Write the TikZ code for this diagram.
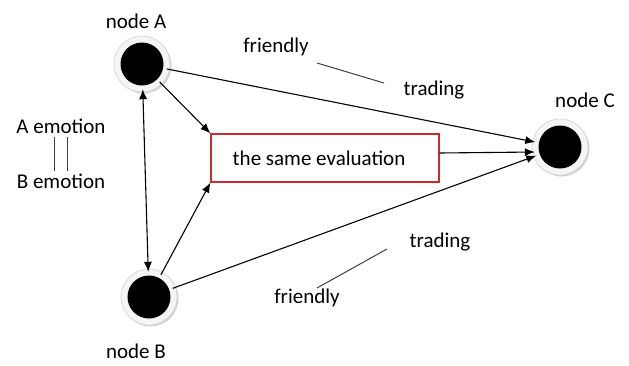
\documentclass[tikz,border=0pt]{standalone}
\usepackage{fontspec}
\setmainfont{Carlito}
\usetikzlibrary{arrows.meta}
\definecolor{boxred}{RGB}{200,45,45}
\begin{document}
\begin{tikzpicture}[x=1pt,y=-1pt,
  lbl/.style={font=\fontsize{21}{25}\selectfont, inner sep=0pt},
  ring/.style={circle, minimum size=50pt, inner sep=0pt},
  conn/.style={line width=1.1pt, -{Latex[length=10pt,width=8pt]}},
  plain/.style={line width=1pt, black!75}]
\useasboundingbox (0,0) rectangle (629,365);
% rings
\foreach \n/\x/\y in {A/142/64, B/149/297, C/560/147}{
  \fill[gray!35] (\x+1.5,\y+1.5) circle (28);
  \fill[gray!8] (\x,\y) circle (28);
  \draw[gray!30, line width=0.8pt] (\x,\y) circle (28);
  \fill[black] (\x,\y) circle (21.5);
  \node[ring] (\n) at (\x,\y) {};
}
% labels
\node[lbl] (la) at (136,21) {node A};
\node[lbl] (lb) at (136,351) {node B};
\node[lbl] (lc) at (585,100) {node C};
\node[lbl] (ae) at (61,126) {A emotion};
\node[lbl] (be) at (61,181) {B emotion};
\coordinate (e1t) at (54,137); \coordinate (e1b) at (54,171);
\coordinate (e2t) at (67,137); \coordinate (e2b) at (67,171);
\draw[plain] (e1t) -- (e1b);
\draw[plain] (e2t) -- (e2b);
\node[lbl] (f1) at (276,47) {friendly};
\node[lbl] (t1) at (434,90) {trading};
\coordinate (s1a) at (317,63); \coordinate (s1b) at (384,83);
\draw[plain] (s1a) -- (s1b);
\node[lbl] (t2) at (440,242) {trading};
\node[lbl] (f2) at (307,298) {friendly};
\coordinate (s2a) at (317,288); \coordinate (s2b) at (387,249);
\draw[plain] (s2a) -- (s2b);
% box
\node[draw=boxred, line width=1.2pt, minimum width=228pt, minimum height=48pt,
      inner sep=0pt, font=\fontsize{21}{25}\selectfont] (box) at (325,158) {\hspace*{-12pt}the same evaluation};
% connectors
\draw[conn] (A) -- (C);
\draw[conn] (A) -- (box.north west);
\draw[conn] (B) -- (box.south west);
\draw[conn] (B) -- (C);
\draw[conn] ([yshift=5pt]box.east) -- ([yshift=-5pt]C.west);
\draw[line width=1.1pt, {Latex[length=10pt,width=8pt]}-{Latex[length=10pt,width=8pt]}] (A) -- (B);
\end{tikzpicture}
\end{document}
